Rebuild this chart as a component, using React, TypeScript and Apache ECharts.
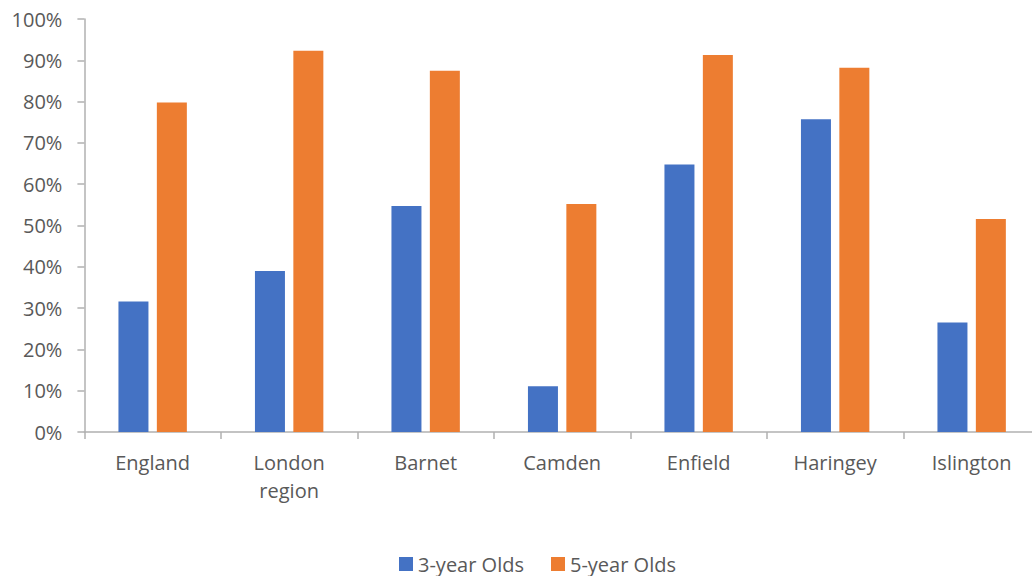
import React, { useEffect, useRef } from "react";
import * as echarts from "echarts";

const categories = ["England", "London\nregion", "Barnet", "Camden", "Enfield", "Haringey", "Islington"];
const threeYearOlds = [31.6, 39.0, 54.7, 11.1, 64.8, 75.7, 26.5];
const fiveYearOlds = [79.8, 92.3, 87.5, 55.2, 91.3, 88.2, 51.6];
const seriesNames = ["3-year Olds", "5-year Olds"];

const FONT = "Open Sans";
const TEXT = "#595959";
const AXIS = "#b0b0b0";

export default function App() {
  const ref = useRef<HTMLDivElement>(null);
  useEffect(() => {
    if (!ref.current) return;
    const chart = echarts.init(ref.current, null, { renderer: "svg" });
    chart.setOption({
      animation: false,
      textStyle: { fontFamily: FONT },
      grid: {
        left: 84.4,
        top: 19,
        height: 413,
        width: 955.5,
        containLabel: false,
        outerBoundsMode: "none",
      },
      legend: {
        top: 549,
        left: 394,
        padding: 5,
        itemWidth: 14,
        itemHeight: 14,
        itemGap: 27,
        icon: "rect",
        textStyle: { fontFamily: FONT, fontSize: 20, color: TEXT, lineHeight: 20 },
        data: seriesNames,
      },
      xAxis: {
        type: "category",
        data: categories,
        axisLine: { lineStyle: { color: AXIS, width: 1.5 } },
        axisTick: { show: true, alignWithLabel: false, interval: 0, length: 7, lineStyle: { color: AXIS, width: 1.5 } },
        axisLabel: { interval: 0, margin: 16, fontSize: 20, lineHeight: 28, color: TEXT, fontFamily: FONT },
      },
      yAxis: {
        type: "value",
        min: 0,
        max: 100,
        interval: 10,
        splitLine: { show: false },
        axisLine: { show: true, lineStyle: { color: AXIS, width: 1.5 } },
        axisTick: { show: true, length: 7, lineStyle: { color: AXIS, width: 1.5 } },
        axisLabel: { formatter: "{value}%", fontSize: 20, color: TEXT, fontFamily: FONT, margin: 22 },
      },
      series: [
        {
          name: seriesNames[0],
          type: "bar",
          data: threeYearOlds,
          barWidth: 30,
          barGap: "28%",
          itemStyle: { color: "#4472C4" },
        },
        {
          name: seriesNames[1],
          type: "bar",
          data: fiveYearOlds,
          barWidth: 30,
          barGap: "28%",
          itemStyle: { color: "#ED7D31" },
        },
      ],
    });
    return () => chart.dispose();
  }, []);
  return (
    <div
      ref={ref}
      style={{ position: "fixed", left: 0, top: 0, width: 1032, height: 576, background: "#fff" }}
    />
  );
}
